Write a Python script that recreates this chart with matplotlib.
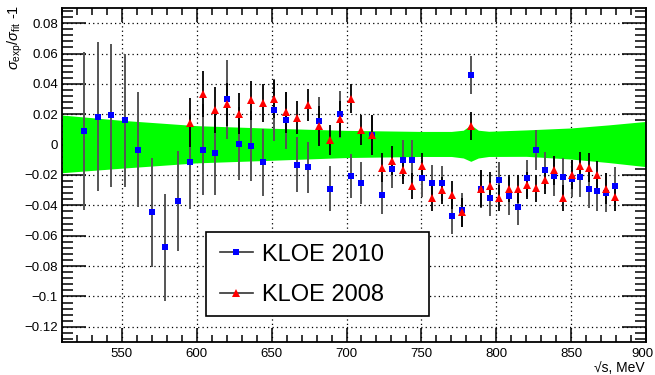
import numpy as np
import matplotlib
matplotlib.use("Agg")
import matplotlib.pyplot as plt
import matplotlib.transforms as mtransforms
from matplotlib.ticker import MultipleLocator, FuncFormatter
from matplotlib.lines import Line2D
from matplotlib.patches import Rectangle

plt.rcParams['font.family'] = ['Liberation Sans', 'DejaVu Sans']
plt.rcParams['mathtext.fontset'] = 'custom'
plt.rcParams['mathtext.rm'] = 'Liberation Sans'
plt.rcParams['mathtext.it'] = 'Liberation Sans:italic'

# KLOE 2010 (blue squares)
e2010 = [524.5, 534, 543, 552, 561, 570, 578.7, 587.3, 595.7, 604.2, 612.2, 620.5,
         628.3, 636.3, 644.2, 651.8, 659.6, 667, 674.3, 681.7, 689, 695.6, 702.8,
         709.7, 716.8, 723.7, 730.6, 737.5, 744, 750.6, 757.3, 763.8, 770.2, 776.9,
         783.1, 789.8, 795.8, 802, 808.4, 814.6, 820.6, 826.6, 832.6, 838.6, 844.6,
         850.4, 856.2, 862, 867.5, 873.3, 879.1]
v2010 = [0.0087, 0.0185, 0.0194, 0.016, -0.0033, -0.0445, -0.0677, -0.0369, -0.0113,
         -0.0035, -0.0055, 0.030, 0.0007, -0.0009, -0.0116, 0.0227, 0.0159, -0.0131,
         -0.015, 0.0155, -0.029, 0.020, -0.0205, -0.0251, 0.0065, -0.033, -0.0159,
         -0.0098, -0.0098, -0.0223, -0.0251, -0.0255, -0.0471, -0.0428, 0.0456,
         -0.0295, -0.0354, -0.0236, -0.034, -0.0413, -0.022, -0.0037, -0.017, -0.0207,
         -0.0212, -0.0225, -0.0216, -0.0293, -0.0308, -0.0316, -0.0275]
err2010 = [0.052, 0.049, 0.047, 0.044, 0.038, 0.036, 0.035, 0.033, 0.031, 0.030, 0.028,
           0.026, 0.024, 0.023, 0.022, 0.0205, 0.019, 0.018, 0.017, 0.016, 0.015, 0.0155,
           0.0145, 0.0138, 0.013, 0.0126, 0.0125, 0.0126, 0.013, 0.012, 0.0117, 0.0115,
           0.012, 0.0112, 0.0125, 0.0125, 0.0116, 0.0123, 0.0125, 0.0117, 0.0122, 0.0133,
           0.0122, 0.0131, 0.0123, 0.0122, 0.013, 0.0127, 0.013, 0.0127, 0.0129]

# KLOE 2008 (red triangles)
e2008 = [595.7, 604.2, 612.2, 620.5, 628.3, 636.3, 644.2, 651.8, 659.6, 667, 674.3,
         681.7, 689, 695.6, 702.8, 709.7, 716.8, 723.7, 730.6, 737.5, 744, 750.6,
         757.3, 763.8, 770.2, 776.9, 783.1, 789.8, 795.8, 802, 808.4, 814.6, 820.6,
         826.6, 832.6, 838.6, 844.6, 850.4, 856.2, 862, 867.5, 873.3, 879.1]
v2008 = [0.0144, 0.0332, 0.0229, 0.0266, 0.0205, 0.0292, 0.0277, 0.0303, 0.0214, 0.0177,
         0.026, 0.0122, 0.0031, 0.0168, 0.0303, 0.0094, 0.0063, -0.0151, -0.0105, -0.017,
         -0.0273, -0.0144, -0.0354, -0.030, -0.0332, -0.0447, 0.0122, -0.029, -0.0273,
         -0.0354, -0.029, -0.0295, -0.0269, -0.0288, -0.0236, -0.017, -0.0351, -0.0199,
         -0.0142, -0.0153, -0.0203, -0.029, -0.0347]
err2008 = [0.016, 0.015, 0.015, 0.014, 0.0135, 0.013, 0.0125, 0.0125, 0.0136, 0.011,
           0.0105, 0.0132, 0.0098, 0.012, 0.0097, 0.0099, 0.013, 0.0094, 0.0095, 0.0088,
           0.0087, 0.0092, 0.0086, 0.0089, 0.009, 0.0093, 0.0094, 0.012, 0.0093, 0.0085,
           0.009, 0.0092, 0.0087, 0.009, 0.009, 0.0094, 0.0083, 0.0096, 0.0094, 0.0096,
           0.0096, 0.010, 0.009]

# Fit uncertainty band (green)
band_e = [510, 550, 600, 650, 700, 750, 770, 778, 783, 788, 795, 820, 850, 875, 900]
band_hi = [0.0195, 0.016, 0.0125, 0.0108, 0.0094, 0.0087, 0.0087, 0.0095, 0.013, 0.0095,
           0.0088, 0.0097, 0.011, 0.013, 0.0153]
band_lo = [-0.0185, -0.0155, -0.012, -0.0103, -0.0085, -0.0078, -0.0078, -0.0088, -0.011,
           -0.0088, -0.0078, -0.0077, -0.0095, -0.0118, -0.0145]

W, H = 655, 375
fig = plt.figure(figsize=(W/100, H/100), dpi=100)
ax = fig.add_axes([62/W, 1-342/H, (646-62)/W, (342-8)/H])

ax.set_axisbelow(True)
ax.grid(True, which='major', color='black', linestyle=(0, (1, 2.5)), linewidth=0.9)

ax.fill_between(band_e, band_lo, band_hi, color='#00ff00', linewidth=0, zorder=2)

ax.errorbar(e2010, v2010, yerr=err2010, fmt='none', ecolor='#555555', elinewidth=1.4,
            capsize=0, zorder=3)
ax.errorbar(e2008, v2008, yerr=err2008, fmt='none', ecolor='black', elinewidth=1.3,
            capsize=0, zorder=4)
ax.plot(e2010, v2010, 's', color='#0000ff', markersize=4.3, markeredgewidth=0, zorder=5)
ax.plot(e2008, v2008, '^', color='#ff0000', markersize=5.2, markeredgewidth=0, zorder=6)

ax.set_xlim(510, 900)
ax.set_ylim(-0.13, 0.09)
ax.xaxis.set_major_locator(MultipleLocator(50))
ax.xaxis.set_minor_locator(MultipleLocator(10))
ax.yaxis.set_major_locator(MultipleLocator(0.02))
ax.yaxis.set_minor_locator(MultipleLocator(0.004))

def yfmt(v, pos):
    if abs(v) < 1e-9:
        return '0'
    s = ('%.2f' % v).rstrip('0')
    return s.replace('-', '\u2212')
ax.yaxis.set_major_formatter(FuncFormatter(yfmt))

ax.tick_params(which='both', direction='in', top=True, right=True, labelsize=9.5,
               width=1.1)
ax.tick_params(axis='x', which='major', length=10, pad=4)
ax.tick_params(axis='x', which='minor', length=5)
ax.tick_params(axis='y', which='major', length=17, pad=3)
ax.tick_params(axis='y', which='minor', length=8)
for sp in ax.spines.values():
    sp.set_linewidth(1.3)

# keep the last x tick label inside the canvas
fig.canvas.draw()
for lbl in ax.get_xticklabels():
    if lbl.get_text() == '900':
        lbl.set_ha('right')
        lbl.set_transform(lbl.get_transform() +
                          mtransforms.ScaledTranslation(8/100, 0, fig.dpi_scale_trans))

fig.text(15.5/W, 1-5/H, r'$\sigma_{\rm exp}/\sigma_{\rm fit}$ -1', rotation=90,
         ha='center', va='top', fontsize=10.5)
fig.text(645/W, 1-368/H, '\u221As, MeV', ha='right', va='center', fontsize=10)

# legend frame (fixed box like the reference)
fig.patches.append(Rectangle((206/W, 1-316/H), (429-206)/W, (316-232)/H,
                             transform=fig.transFigure, facecolor='white',
                             edgecolor='black', linewidth=1.2, zorder=9))

h1 = Line2D([], [], color='#333333', marker='s', markersize=4.3, markerfacecolor='#0000ff',
            markeredgewidth=0, linewidth=1.2)
h2 = Line2D([], [], color='#333333', marker='^', markersize=5.2, markerfacecolor='#ff0000',
            markeredgewidth=0, linewidth=1.2)
leg = fig.legend([h1, h2], ['KLOE 2010', 'KLOE 2008'], loc='center',
                 bbox_to_anchor=(302/W, 1-275/H), fontsize=17,
                 frameon=False, handlelength=1.4, handletextpad=0.4,
                 labelspacing=0.8, borderpad=0, borderaxespad=0)
leg.set_zorder(10)

fig.savefig('out.png', dpi=100)
